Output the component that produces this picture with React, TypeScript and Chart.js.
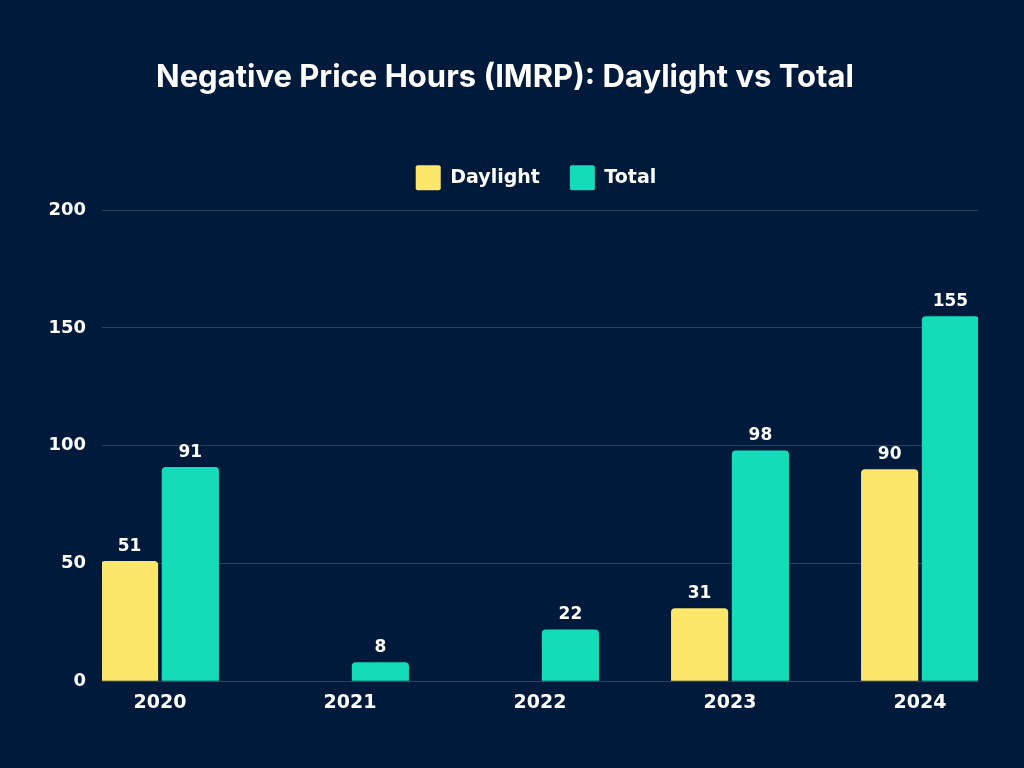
import React, { useEffect, useRef } from "react";
import { Chart, registerables } from "chart.js";

Chart.register(...registerables);

const years = ["2020", "2021", "2022", "2023", "2024"];
const daylight = [51, 0, 0, 31, 90];
const total = [91, 8, 22, 98, 155];
const yTicks = [0, 50, 100, 150, 200];

const BG = "#001a3b";
const YELLOW = "#fce76b";
const TEAL = "#14dcb9";
const FONT = "'DejaVu Sans'";

const valueLabels = {
  id: "valueLabels",
  afterDatasetsDraw(chart: any) {
    const ctx = chart.ctx;
    ctx.save();
    ctx.fillStyle = "#ffffff";
    ctx.font = `bold 17px ${FONT}`;
    ctx.textAlign = "center";
    ctx.textBaseline = "bottom";
    chart.data.datasets.forEach((ds: any, di: number) => {
      const meta = chart.getDatasetMeta(di);
      meta.data.forEach((el: any, i: number) => {
        const v = ds.data[i].y;
        if (!v) return;
        ctx.fillText(String(v), el.x, el.y - 6);
      });
    });
    ctx.restore();
  },
};

const bgPlugin = {
  id: "bg",
  beforeDraw(chart: any) {
    const ctx = chart.ctx;
    ctx.save();
    ctx.fillStyle = BG;
    ctx.fillRect(0, 0, chart.width, chart.height);
    ctx.restore();
  },
};

const legendTweak = {
  id: "legendTweak",
  afterInit(chart: any) {
    const lg = chart.legend;
    if (!lg) return;
    const orig = lg.fit;
    lg.fit = function () {
      orig.call(this);
      this.height += 10;
    };
  },
  beforeDraw(chart: any) {
    const lg = chart.legend;
    if (!lg) return;
    lg.left = chart.chartArea.left - 8;
    lg.right = chart.chartArea.right;
  },
};

export default function App() {
  const ref = useRef<HTMLCanvasElement>(null);
  useEffect(() => {
    document.body.style.margin = "0";
    document.body.style.background = BG;
    const chart = new Chart(ref.current as HTMLCanvasElement, {
      type: "bar",
      data: {
        datasets: [
          {
            label: "Daylight",
            data: daylight.map((v, i) => ({ x: i, y: v })),
            backgroundColor: YELLOW,
            borderRadius: { topLeft: 4, topRight: 4 },
            borderSkipped: "bottom",
            categoryPercentage: 0.64,
            barPercentage: 0.94,
          },
          {
            label: "Total",
            data: total.map((v, i) => ({ x: i, y: v })),
            backgroundColor: TEAL,
            borderRadius: { topLeft: 4, topRight: 4 },
            borderSkipped: "bottom",
            categoryPercentage: 0.64,
            barPercentage: 0.94,
          },
        ],
      },
      options: {
        animation: false,
        responsive: false,
        layout: { padding: { left: 32, right: 46, top: 40, bottom: 52 } },
        plugins: {
          tooltip: { enabled: false },
          title: {
            display: true,
            text: "Negative Price Hours (IMRP): Daylight vs Total",
            color: "#ffffff",
            font: { family: "Inter", size: 31, weight: "700" },
            padding: { top: 19, bottom: 39 },
          },
          legend: {
            display: true,
            labels: {
              color: "#ffffff",
              boxWidth: 25,
              boxHeight: 25,
              padding: 30,
              font: { family: "DejaVu Sans", size: 19, weight: "bold" },
              useBorderRadius: true,
              borderRadius: 2,
            },
          },
        },
        scales: {
          x: {
            type: "linear",
            offset: false,
            min: -0.305,
            max: 4.305,
            grid: { display: false },
            border: { display: false },
            afterBuildTicks(scale: any) {
              scale.ticks = years.map((_, i) => ({ value: i }));
            },
            ticks: {
              color: "#ffffff",
              font: { family: "DejaVu Sans", size: 19, weight: "bold" },
              padding: 2,
              callback: (v: any) => years[v] ?? "",
            },
          },
          y: {
            min: 0,
            max: 200,
            afterBuildTicks(scale: any) {
              scale.ticks = yTicks.map((v) => ({ value: v }));
            },
            afterFit(scale: any) {
              scale.width = 70;
            },
            grid: { color: "rgba(255,255,255,0.18)", drawTicks: false, lineWidth: 1 },
            border: { display: false },
            ticks: {
              color: "#ffffff",
              font: { family: "DejaVu Sans", size: 18, weight: "bold" },
              padding: 16,
            },
          },
        },
      },
      plugins: [bgPlugin, legendTweak, valueLabels],
    });
    return () => chart.destroy();
  }, []);
  return (
    <div style={{ width: 1024, height: 768, background: BG }}>
      <canvas ref={ref} width={1024} height={768} style={{ display: "block" }} />
    </div>
  );
}
